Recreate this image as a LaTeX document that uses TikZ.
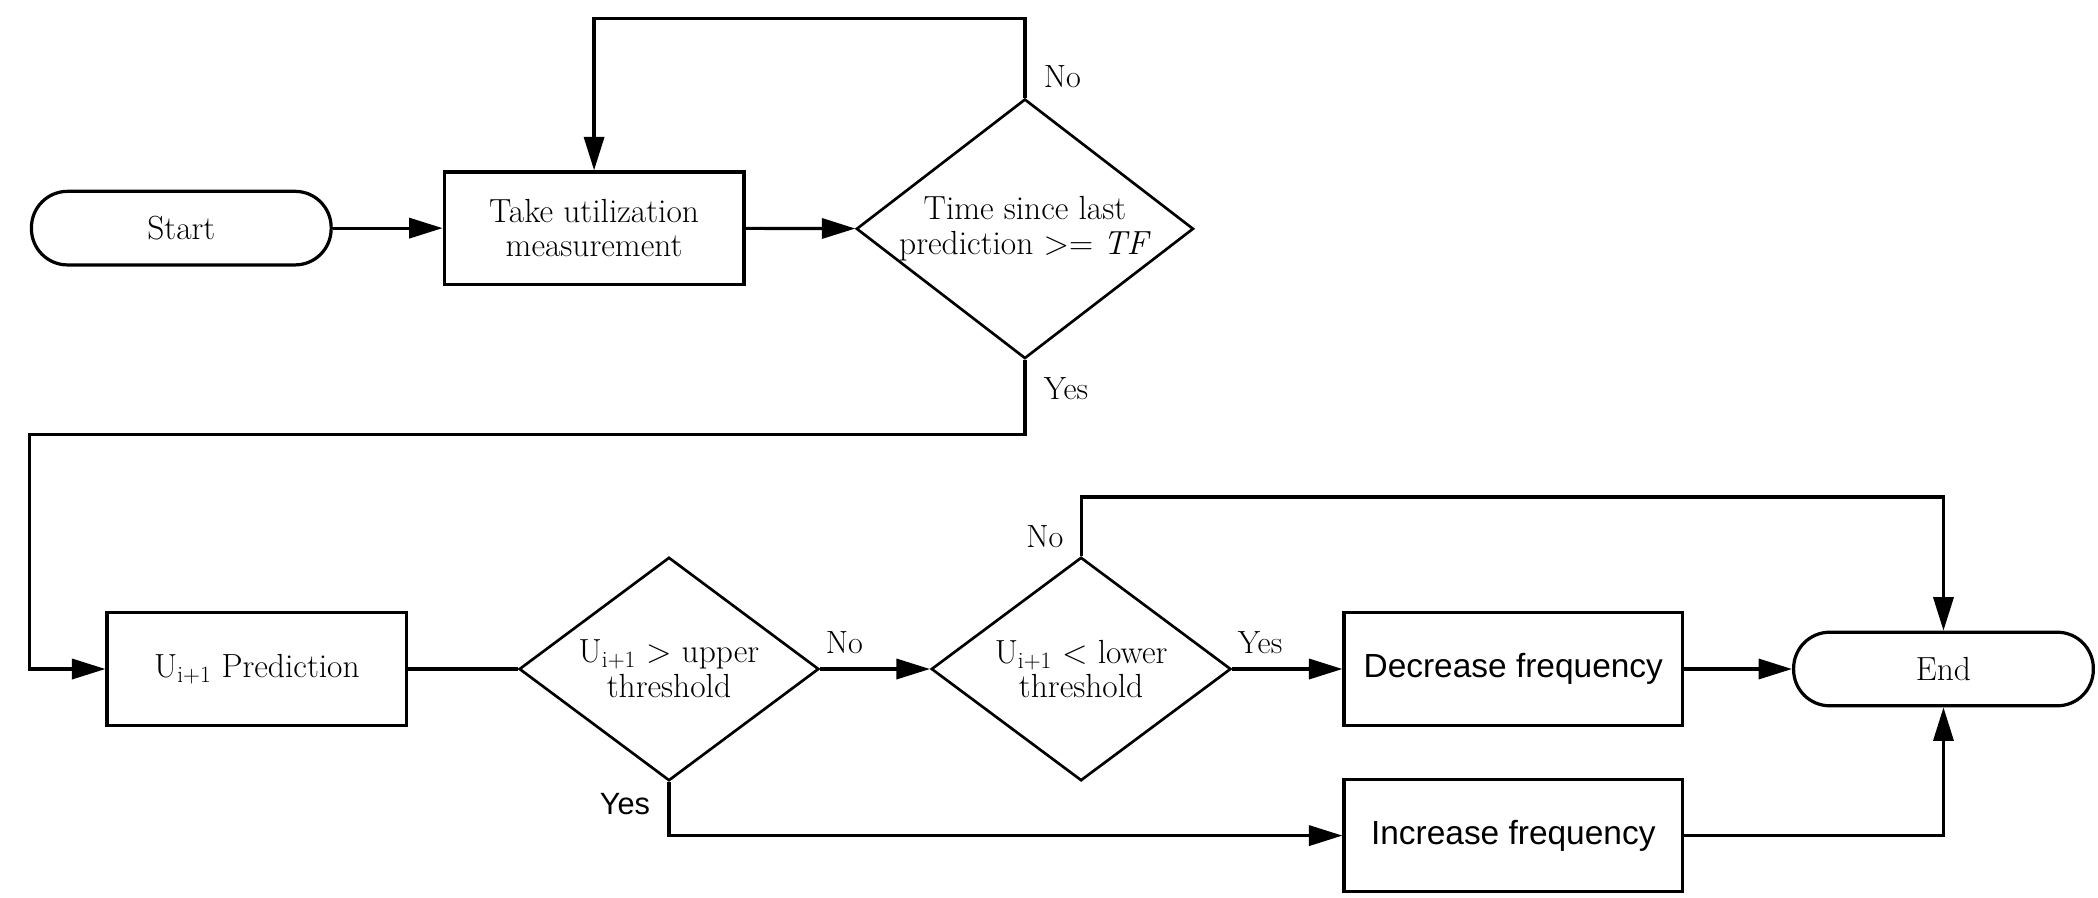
\documentclass[tikz,border=0pt]{standalone}
\usepackage{fontspec}
\newfontfamily\arialfont{Liberation Sans}
\usetikzlibrary{shapes,arrows.meta,calc}

\begin{document}
\begin{tikzpicture}[x=1pt,y=1pt,line width=2.4pt,
  termstyle/.style={rectangle,rounded corners=27pt,draw,minimum width=224pt,minimum height=55pt,font=\fontsize{25}{26}\selectfont},
  boxstyle/.style={rectangle,draw,minimum height=84pt,align=center,font=\fontsize{25}{26}\selectfont},
  decstyle/.style={diamond,draw,line width=2pt,inner sep=0pt,aspect=1.3,align=center,font=\fontsize{25}{26}\selectfont},
  lbl/.style={font=\fontsize{24}{26}\selectfont,inner sep=2pt},
  arr/.style={-{Triangle[length=25pt,width=15pt]}}]

  \useasboundingbox (0,0) rectangle (1568,-671);

% top row
  \node [termstyle] (start) at (135.5, -170.5) {Start};
  \node [boxstyle, minimum width=224pt] (take) at (444, -170.5) {Take utilization\\measurement};
  \node [decstyle, minimum width=252pt, minimum height=194pt] (time) at (766, -171) {Time since last\\prediction >= \textit{TF}};

% bottom rows
  \node [boxstyle, minimum width=224pt] (pred) at (192, -500) {U\textsubscript{i+1} Prediction};
  \node [decstyle, minimum width=224pt, minimum height=167pt] (upper) at (500, -500) {U\textsubscript{i+1} > upper\\threshold};
  \node [decstyle, minimum width=224pt, minimum height=167pt] (lower) at (808, -500) {U\textsubscript{i+1} < lower\\threshold};
  \node [boxstyle, minimum width=253pt, font=\arialfont\fontsize{25}{27}\selectfont] (dec) at (1131, -500) {Decrease frequency};
  \node [termstyle] (end) at (1452.5, -500) {End};
  \node [boxstyle, minimum width=253pt, font=\arialfont\fontsize{25}{27}\selectfont] (inc) at (1131, -624.5) {Increase frequency};

% connectors
  \draw [arr] (start) -- (take);
  \draw [arr] (take) -- (time);
  \draw [arr] (time.north) -- ++(0, 59) -| (take.north);
  \draw [arr] (time.south) |- (22, -325) |- (pred.west);
  \draw (pred) -- (upper);
  \draw [arr] (upper) -- (lower);
  \draw [arr] (lower) -- (dec);
  \draw [arr] (dec) -- (end);
  \draw [arr] (lower.north) -- ++(0, 44) -| (end.north);
  \draw [arr] (upper.south) |- (inc.west);
  \draw [arr] (inc) -| (end.south);

% labels
  \node [lbl, anchor=south west] (timeno) at ($(time.north)+(11, 4)$) {No};
  \node [lbl, anchor=north west] (timeyes) at ($(time.south)+(11, -10)$) {Yes};
  \node [lbl, anchor=south west] (upperno) at ($(upper.east)+(1, 8)$) {No};
  \node [lbl, anchor=north east, font=\arialfont\fontsize{23}{26}\selectfont] (upperyes) at ($(upper.south)+(-11, -5)$) {Yes};
  \node [lbl, anchor=south west] (loweryes) at ($(lower.east)+(1, 8)$) {Yes};
  \node [lbl, anchor=south east] (lowerno) at ($(lower.north)+(-10, 3)$) {No};

\end{tikzpicture}
\end{document}
